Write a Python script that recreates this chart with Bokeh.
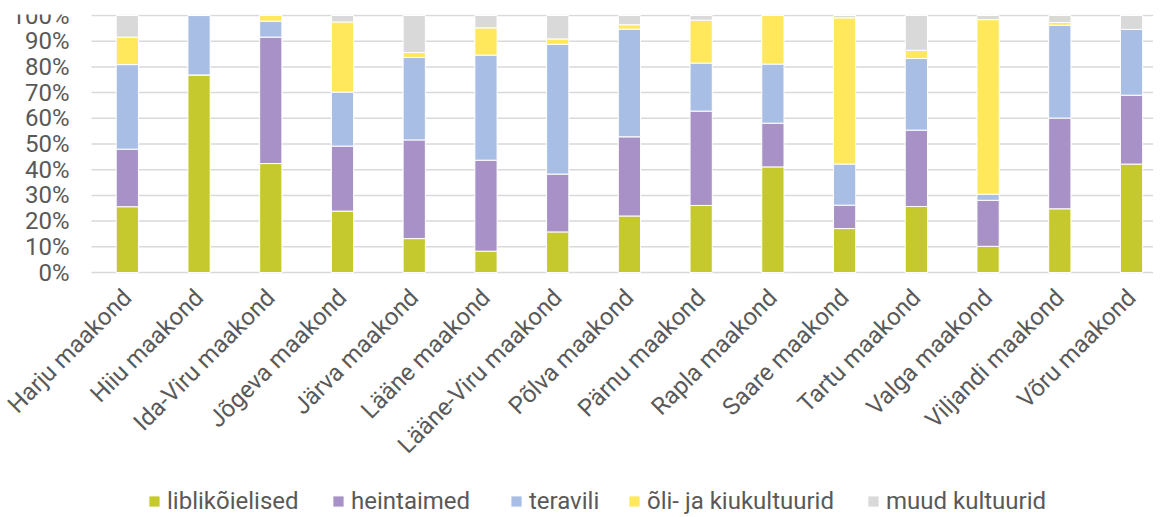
import math
from bokeh.plotting import figure
from bokeh.models import (Range1d, FixedTicker, Legend, LegendItem, ColumnDataSource)
from bokeh.core.properties import value
from bokeh.embed import file_html
from bokeh.resources import INLINE

counties = ["Harju maakond", "Hiiu maakond", "Ida-Viru maakond", "Jõgeva maakond",
            "Järva maakond", "Lääne maakond", "Lääne-Viru maakond", "Põlva maakond",
            "Pärnu maakond", "Rapla maakond", "Saare maakond", "Tartu maakond",
            "Valga maakond", "Viljandi maakond", "Võru maakond"]

# shares in percent
liblikoielised = [25.6, 76.9, 42.4, 23.9, 13.2, 8.3, 15.8, 22.0, 26.1, 41.1, 17.1, 25.7, 10.2, 24.8, 42.2]
heintaimed     = [22.4, 0.0, 49.2, 25.3, 38.4, 35.4, 22.5, 30.8, 36.7, 17.0, 9.1, 29.7, 17.9, 35.3, 26.8]
teravili       = [32.9, 23.1, 6.2, 21.0, 32.1, 40.9, 50.5, 41.9, 18.7, 23.0, 16.0, 27.9, 2.4, 36.1, 25.6]
oli_kiu        = [10.7, 0.0, 2.2, 27.3, 1.9, 10.6, 2.1, 1.7, 16.7, 18.9, 56.9, 3.2, 67.9, 1.1, 0.0]
muud           = [8.4, 0.0, 0.0, 2.5, 14.4, 4.8, 9.1, 3.6, 1.8, 0.0, 0.9, 13.5, 1.6, 2.7, 5.4]

y_ticks = [0.0, 0.1, 0.2, 0.3, 0.4, 0.5, 0.6, 0.7, 0.8, 0.9, 1.0]
y_tick_labels = ["0%", "10%", "20%", "30%", "40%", "50%", "60%", "70%", "80%", "90%", "100%"]

series_labels = ["liblikõielised", "heintaimed", "teravili", "õli- ja kiukultuurid", "muud kultuurid"]
series_keys = ["s1", "s2", "s3", "s4", "s5"]
colors = ["#C5C92D", "#A791C6", "#A9BEE4", "#FFE85B", "#D9D9D9"]

src = ColumnDataSource(dict(
    x=list(range(len(counties))),
    s1=[v / 100 for v in liblikoielised],
    s2=[v / 100 for v in heintaimed],
    s3=[v / 100 for v in teravili],
    s4=[v / 100 for v in oli_kiu],
    s5=[v / 100 for v in muud],
))

FONT = "Roboto"
TXT = "#595959"
X0 = -0.499     # left end of the plotting area (where gridlines start)
X1 = 14.306

# the frame covers the whole picture; the category axis sits at the 0% line
p = figure(frame_width=1153, frame_height=501,
           min_border_left=0, min_border_right=0, min_border_top=14, min_border_bottom=0,
           x_range=Range1d(-1.768, X1), y_range=Range1d(-0.9455, 1.004),
           output_backend="svg", toolbar_location=None)
p.outline_line_color = None
p.xgrid.visible = False
p.ygrid.visible = False
p.yaxis.visible = False

# horizontal gridlines at the percentage ticks
gsrc = ColumnDataSource(dict(y=y_ticks, x0=[X0] * len(y_ticks), x1=[X1] * len(y_ticks),
                             label=y_tick_labels))
p.segment(x0="x0", y0="y", x1="x1", y1="y", source=gsrc, line_color="#D9D9D9", line_width=1.5)

renderers = p.vbar_stack(series_keys, x="x", width=0.31, color=colors, source=src,
                         line_color="white", line_width=1)

# percentage labels to the left of the plotting area
p.text(x="x0", y="y", text="label", source=gsrc, x_offset=-22,
       text_align="right", text_baseline="middle",
       text_font=value(FONT), text_font_size="24px", text_color=TXT)

p.xaxis.fixed_location = 0
p.xaxis.ticker = FixedTicker(ticks=list(range(len(counties))))
p.xaxis.major_label_overrides = {i: c for i, c in enumerate(counties)}
p.xaxis.axis_line_color = None
p.xaxis.major_tick_line_color = None
p.xaxis.minor_tick_line_color = None
p.xaxis.major_label_orientation = math.pi / 4
p.xaxis.major_label_standoff = 15
p.xaxis.major_label_text_font = FONT
p.xaxis.major_label_text_font_size = "24px"
p.xaxis.major_label_text_color = TXT

# one legend entry per series, placed like the reference's centred legend row
legend_x = [147, 331, 509, 627, 866]
for lab, r, lx in zip(series_labels, renderers, legend_x):
    lg = Legend(items=[LegendItem(label=lab, renderers=[r])],
                orientation="horizontal", location=(lx, 0),
                padding=0, margin=0, spacing=0, glyph_width=14, glyph_height=14,
                label_standoff=6, border_line_color=None, background_fill_alpha=0,
                label_text_font=FONT, label_text_font_size="24px", label_text_color=TXT)
    p.add_layout(lg, "center")

open("out.html", "w").write(file_html(p, INLINE))
